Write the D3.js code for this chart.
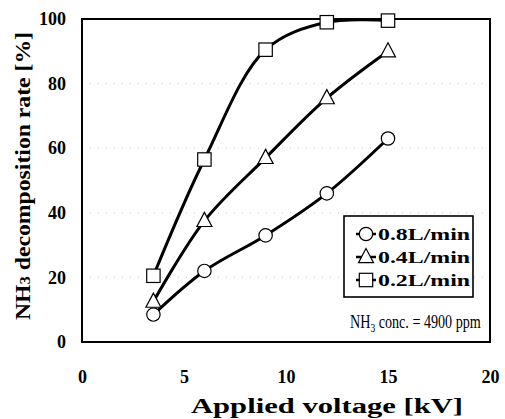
<!DOCTYPE html>
<html><head><meta charset="utf-8">
<script src="https://cdn.jsdelivr.net/npm/d3@7"></script>
<style>body{margin:0;background:#fff}svg{display:block}</style>
</head><body>
<script>
const voltages = [3.5, 6, 9, 12, 15];
const rate08 = [8.5, 22, 33, 46, 63];
const rate04 = [12.5, 37.5, 57, 75.5, 90];
const rate02 = [20.5, 56.5, 90.5, 99, 99.5];
const seriesNames = ["0.8L/min", "0.4L/min", "0.2L/min"];
const seriesShapes = ["circle", "triangle", "square"];
const xTicks = [0, 5, 10, 15, 20];
const yTicks = [0, 20, 40, 60, 80, 100];

const W = 505, H = 419;
const m = {l: 82, r: 15, t: 19, b: 77};
const svg = d3.select("body").append("svg").attr("width", W).attr("height", H);
const x = d3.scaleLinear().domain([0, 20]).range([m.l, W - m.r]);
const y = d3.scaleLinear().domain([0, 100]).range([H - m.b, m.t]);
const serif = "Liberation Serif, Times New Roman, serif";

// faint dotted gridlines
svg.append("g").selectAll("line").data([20, 40, 60, 80]).join("line")
  .attr("x1", x(0)).attr("x2", x(20)).attr("y1", d => y(d)).attr("y2", d => y(d))
  .attr("stroke", "#c8c8c8").attr("stroke-width", 1).attr("stroke-dasharray", "1,7");

// axes (no tick marks)
const xAxis = svg.append("g").attr("transform", `translate(0,${y(0)})`)
  .call(d3.axisBottom(x).tickValues(xTicks).tickSize(0).tickPadding(28).tickFormat(d3.format("d")));
const yAxis = svg.append("g").attr("transform", `translate(${x(0)},0)`)
  .call(d3.axisLeft(y).tickValues(yTicks).tickSize(0).tickPadding(16).tickFormat(d3.format("d")));
[xAxis, yAxis].forEach(a => {
  a.select(".domain").remove();
  a.selectAll("text").attr("font-family", serif).attr("font-weight", "bold")
    .attr("font-size", 18).attr("fill", "#000");
});

// frame
svg.append("rect").attr("x", x(0)).attr("y", y(100))
  .attr("width", x(20) - x(0)).attr("height", y(0) - y(100))
  .attr("fill", "none").attr("stroke", "#000").attr("stroke-width", 2);

const series = [rate08, rate04, rate02].map((vals, i) => ({
  name: seriesNames[i], shape: seriesShapes[i],
  pts: vals.map((v, j) => ({x: voltages[j], y: v}))
}));

const line = d3.line().x(d => x(d.x)).y(d => y(d.y)).curve(d3.curveCatmullRom.alpha(0.5));

function drawMarker(g, shape, cx, cy) {
  if (shape === "circle") {
    g.append("circle").attr("cx", cx).attr("cy", cy).attr("r", 6.7)
      .attr("fill", "#fff").attr("stroke", "#000").attr("stroke-width", 1.2);
  } else if (shape === "square") {
    g.append("rect").attr("x", cx - 6.7).attr("y", cy - 6.7).attr("width", 13.4).attr("height", 13.4)
      .attr("fill", "#fff").attr("stroke", "#000").attr("stroke-width", 1.2);
  } else {
    const s = 7.5;
    g.append("path").attr("d", `M${cx},${cy - s - 1}L${cx + s},${cy + s * 0.75}L${cx - s},${cy + s * 0.75}Z`)
      .attr("fill", "#fff").attr("stroke", "#000").attr("stroke-width", 1.2);
  }
}

series.forEach(s => {
  svg.append("path").datum(s.pts).attr("d", line)
    .attr("fill", "none").attr("stroke", "#000").attr("stroke-width", 3);
});
series.forEach(s => {
  const g = svg.append("g");
  s.pts.forEach(p => drawMarker(g, s.shape, x(p.x), y(p.y)));
});

// legend
const lg = svg.append("g");
lg.append("rect").attr("x", 344).attr("y", 216).attr("width", 129).attr("height", 81)
  .attr("fill", "#fff").attr("stroke", "#000").attr("stroke-width", 1.6);
series.forEach((s, i) => {
  const cy = 234 + i * 23;
  lg.append("line").attr("x1", 356).attr("x2", 376).attr("y1", cy).attr("y2", cy)
    .attr("stroke", "#000").attr("stroke-width", 2.5);
  drawMarker(lg, s.shape, 366, cy);
  lg.append("text").attr("x", 378).attr("y", cy + 6).text(s.name)
    .attr("font-family", serif).attr("font-weight", "bold").attr("font-size", 17)
    .attr("textLength", 92).attr("lengthAdjust", "spacingAndGlyphs");
});

// annotation (natural text, scaled horizontally to the reference footprint)
const annG = svg.append("g");
const ann = annG.append("text").attr("x", 0).attr("y", 0)
  .attr("font-family", serif).attr("font-size", 18);
ann.append("tspan").text("NH");
ann.append("tspan").attr("font-size", 12).attr("dy", 4).text("3");
ann.append("tspan").attr("dy", -4).text(" conc. = 4900 ppm");
const annW = ann.node().getBBox().width || 160;
annG.attr("transform", `translate(350,328) scale(${131 / annW},1)`);

// axis titles
svg.append("text").attr("x", (191 + 463) / 2).attr("y", 413).attr("text-anchor", "middle")
  .attr("font-family", serif).attr("font-weight", "bold").attr("font-size", 20)
  .attr("textLength", 272).attr("lengthAdjust", "spacingAndGlyphs")
  .text("Applied voltage [kV]");

const yt = svg.append("text").attr("transform", "translate(30,176) rotate(-90)")
  .attr("text-anchor", "middle").attr("font-family", serif).attr("font-weight", "bold")
  .attr("font-size", 20).attr("textLength", 288).attr("lengthAdjust", "spacingAndGlyphs");
yt.append("tspan").text("NH");
yt.append("tspan").attr("font-size", 14).text("3");
yt.append("tspan").text(" decomposition rate [%]");
</script>
</body></html>
